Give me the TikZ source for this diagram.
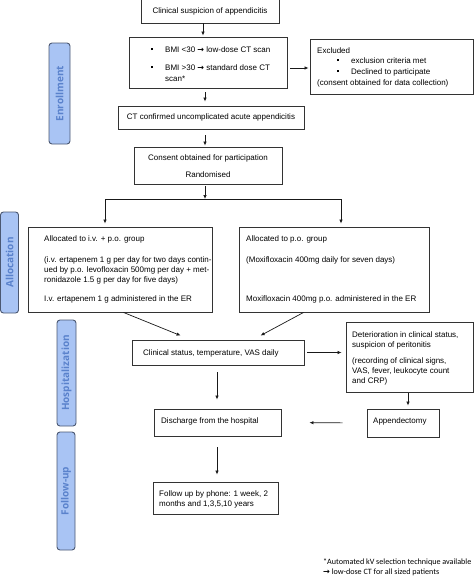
\documentclass[tikz,border=0pt]{standalone}
\usepackage{fontspec}
\setmainfont{Liberation Sans}
\newfontfamily\labfont{Open Sans}
\newfontfamily\notefont{Carlito}
\newfontfamily\arrfont{DejaVu Sans}
\usetikzlibrary{arrows.meta,calc}
\definecolor{lblfill}{HTML}{A9C4F4}
\definecolor{lbltext}{HTML}{5A82CC}
\definecolor{lbldraw}{HTML}{4B5872}
\definecolor{boxdraw}{HTML}{333333}
\newcommand\sqb{\raisebox{1.8pt}{\rule{2pt}{2pt}}}
\newcommand\rarr{{\arrfont\bfseries →}}
\begin{document}
\begin{tikzpicture}[x=1pt,y=-1pt,
 box/.style={draw=boxdraw, line width=0.9pt, inner sep=0, rectangle, font=\fontsize{8}{9.6}\selectfont},
 txt/.style={inner sep=0, anchor=base west, font=\fontsize{8}{9.6}\selectfont},
 ctxt/.style={inner sep=0, anchor=base, font=\fontsize{8}{9.6}\selectfont},
 lab/.style={draw=lbldraw, fill=lblfill, line width=0.9pt, rounded corners=3pt, inner sep=0, rotate=90, text=lbltext, font=\labfont\bfseries\fontsize{10}{12}\selectfont},
 arr/.style={draw=black!90, line width=0.7pt, -{Latex[length=4pt,width=3.5pt]}},
 ln/.style={draw=black!90, line width=0.7pt},
 note/.style={inner sep=0, anchor=base west, font=\notefont\fontsize{8.1}{9.7}\selectfont}]
\useasboundingbox (0,0) rectangle (474,576);

% side labels
\node[lab, minimum width=101, minimum height=21] (enr) at (59.5,93.5) {Enrollment};
\node[lab, minimum width=101, minimum height=18] (alo) at (9.5,262.5) {Allocation};
\node[lab, minimum width=106, minimum height=19] (hos) at (66.5,373) {Hospitalization};
\node[lab, minimum width=118, minimum height=18] (fol) at (66,491) {Follow-up};

% boxes
\node[box, minimum width=138, minimum height=24] (b1) at (210,11) {Clinical suspicion of appendicitis};
\node[box, minimum width=158, minimum height=51] (b2) at (208,62.5) {};
\node[box, minimum width=163, minimum height=55] (ex) at (391.5,66.5) {};
\node[box, minimum width=186, minimum height=23] (b3) at (211,117.5) {CT confirmed uncomplicated acute appendicitis};
\node[box, minimum width=148, minimum height=37] (b4) at (208,165.5) {};
\node[box, minimum width=184, minimum height=85] (La) at (120,269.5) {};
\node[box, minimum width=190, minimum height=85] (Ra) at (334,269.5) {};
\node[box, minimum width=172, minimum height=25] (cs) at (218,352.5) {};
\node[box, minimum width=127, minimum height=70] (dt) at (409.5,357) {};
\node[box, minimum width=127, minimum height=27] (dc) at (217.5,422.5) {};
\node[box, minimum width=72, minimum height=28] (ap) at (403,423) {};
\node[box, minimum width=125, minimum height=32] (fu) at (215.5,498) {};

% texts
\node[txt] (t21) at (151,52) {\sqb};
\node[txt] (t22) at (165,52) {BMI <30 \rarr{} low-dose CT scan};
\node[txt] (t23) at (151,70) {\sqb};
\node[txt] (t24) at (165,70) {BMI >30 \rarr{} standard dose CT};
\node[txt] (t25) at (165,81) {scan*};

\node[txt] (e1) at (317,53) {Excluded};
\node[txt] (e2) at (337,63) {\sqb};
\node[txt] (e3) at (351,63) {exclusion criteria met};
\node[txt] (e4) at (337,74) {\sqb};
\node[txt] (e5) at (351,74) {Declined to participate};
\node[txt] (e6) at (317,85) {(consent obtained for data collection)};

\node[ctxt] (c1) at (208,160) {Consent obtained for participation};
\node[ctxt] (c2) at (208,177) {Randomised};

\node[txt] (l1) at (44,241) {Allocated to i.v. + p.o. group};
\node[txt] (l2) at (44,262) {(i.v. ertapenem 1 g per day for two days contin-};
\node[txt] (l3) at (44,272) {ued by p.o. levofloxacin 500mg per day + met-};
\node[txt] (l4) at (44,282) {ronidazole 1.5 g per day for five days)};
\node[txt] (l5) at (44,301) {I.v. ertapenem 1 g administered in the ER};

\node[txt] (r1) at (246,241) {Allocated to p.o. group};
\node[txt] (r2) at (246,262) {(Moxifloxacin 400mg daily for seven days)};
\node[txt] (r3) at (246,301) {Moxifloxacin 400mg p.o. administered in the ER};

\node[txt] (s1) at (143,355) {Clinical status, temperature, VAS daily};

\node[txt] (d1) at (352,337) {Deterioration in clinical status,};
\node[txt] (d2) at (352,347) {suspicion of peritonitis};
\node[txt] (d3) at (352,363) {(recording of clinical signs,};
\node[txt] (d4) at (352,373.5) {VAS, fever, leukocyte count};
\node[txt] (d5) at (352,383.5) {and CRP)};

\node[txt] (h1) at (161,423) {Discharge from the hospital};
\node[txt] (a1) at (373,423) {Appendectomy};
\node[txt] (f1) at (159,496) {Follow up by phone: 1 week, 2};
\node[txt] (f2) at (159,506) {months and 1,3,5,10 years};

\node[note] (n1) at (323,564.5) {*Automated kV selection technique available};
\node[note] (n2) at (323,574.5) {\rarr{} low-dose CT for all sized patients};

% connectors
\coordinate (ax1) at (203,0);
\coordinate (ax2) at (205,0);
\coordinate (ax3) at (217,0);
\coordinate (ax4) at (408,0);
\coordinate (ay1) at (0,68);
\coordinate (sp) at (205,199);
\coordinate (spl) at (105,199);
\coordinate (spr) at (341,199);

\draw[arr, shorten >=1] (b1.south -| ax1) -- (b2.north -| ax1);
\draw[arr, shorten <=4, shorten >=4] (b2.south -| ax2) -- (b3.north -| ax2);
\draw[arr, shorten <=3, shorten >=1] (b2.east |- ay1) -- (ex.west |- ay1);
\draw[arr, shorten <=6, shorten >=1] (b3.south -| ax2) -- (b4.north -| ax2);
\draw[arr, shorten <=2] (b4.south -| sp) -- (sp);
\draw[ln] (spl) -- (spr);
\draw[arr, shorten >=3] (spl) -- (spl |- La.north);
\draw[arr, shorten >=3] (spr) -- (spr |- Ra.north);
\draw[arr] ($(La.south west)+(96,0)$) -- ($(cs.north west)+(49,-4)$);
\draw[arr] ($(Ra.south west)+(65,0)$) -- ($(cs.north west)+(129,-4)$);
\draw[arr, shorten <=3, shorten >=4] (cs.east) -- (dt.west |- cs.east);
\draw[arr, shorten <=7, shorten >=9] (cs.south -| ax3) -- (dc.north -| ax3);
\draw[arr, shorten <=1, shorten >=3] (dt.south -| ax4) -- (ap.north -| ax4);
\draw[arr, shorten <=24, shorten >=28] (ap.west) -- (dc.east);
\draw[arr, shorten <=11, shorten >=7] (dc.south -| ax3) -- (fu.north -| ax3);
\end{tikzpicture}
\end{document}
